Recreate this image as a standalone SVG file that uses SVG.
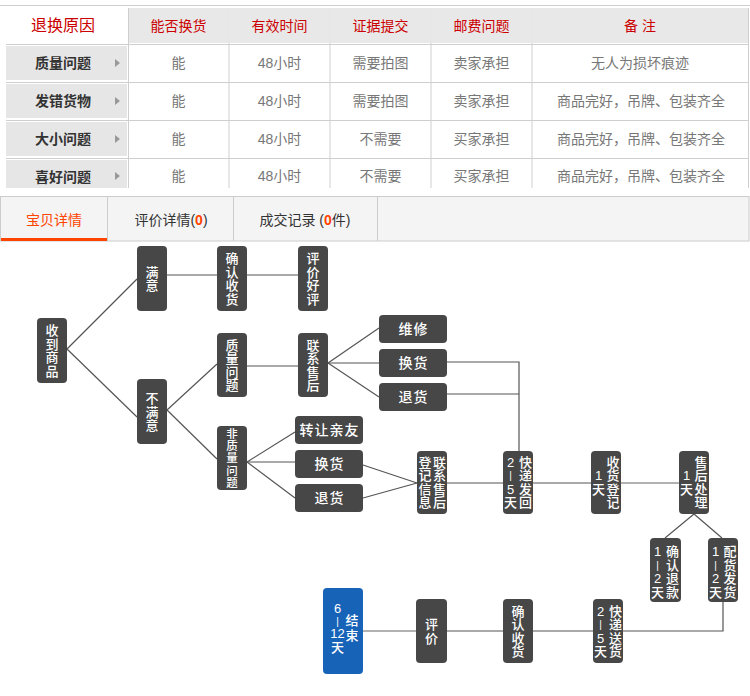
<svg xmlns="http://www.w3.org/2000/svg" width="750" height="696" viewBox="0 0 750 696">
<defs>
<style>
text{font-family:"Liberation Sans","Noto Sans CJK SC",sans-serif;}
.hd{fill:#cc0000;font-size:14px;text-anchor:middle;}
.rc{fill:#333;font-size:14px;font-weight:bold;text-anchor:middle;}
.cv{fill:#777;font-size:14px;text-anchor:middle;}
.grid{stroke:#cfcfcf;stroke-width:1;fill:none;}
.hcell{fill:#e8e8e8;}
.lcell{fill:#e6e6e6;}
.tri{fill:#999;}
.tab{font-size:14px;fill:#333;text-anchor:middle;}
.n{fill:#474747;}
.b{fill:#1763b8;}
.t{fill:#fff;font-size:13px;font-weight:500;text-anchor:middle;}
.s{fill:#fff;font-size:11.5px;font-weight:500;text-anchor:middle;}
.v{font-size:10px;}
.h{fill:#fff;font-size:14px;font-weight:500;text-anchor:middle;letter-spacing:1px;}
.c{stroke:#555;stroke-width:1.2;fill:none;}
.cl{stroke:#999;stroke-width:1.6;fill:none;}
</style>
<clipPath id="tc"><rect x="0" y="0" width="750" height="188"/></clipPath>
</defs>
<rect width="750" height="696" fill="#fff"/>

<g id="table" clip-path="url(#tc)">
<line class="grid" x1="0" y1="5.5" x2="750" y2="5.5"/>
<rect class="hcell" x="129" y="8" width="99" height="35"/>
<rect class="hcell" x="230" y="8" width="99" height="35"/>
<rect class="hcell" x="331" y="8" width="99" height="35"/>
<rect class="hcell" x="432" y="8" width="99" height="35"/>
<rect class="hcell" x="533" y="8" width="215" height="35"/>
<rect class="lcell" x="6" y="46" width="121" height="34"/>
<rect class="lcell" x="6" y="84" width="121" height="34"/>
<rect class="lcell" x="6" y="122" width="121" height="34"/>
<rect class="lcell" x="6" y="160" width="121" height="34"/>
<g class="grid">
<line x1="6" y1="44.5" x2="748" y2="44.5"/>
<line x1="6" y1="82.5" x2="748" y2="82.5"/>
<line x1="6" y1="120.5" x2="748" y2="120.5"/>
<line x1="6" y1="158.5" x2="748" y2="158.5"/>
<line x1="128.5" y1="8" x2="128.5" y2="190"/>
<line x1="229" y1="8" x2="229" y2="190"/>
<line x1="330" y1="8" x2="330" y2="190"/>
<line x1="431" y1="8" x2="431" y2="190"/>
<line x1="532" y1="8" x2="532" y2="190"/>
<line x1="748.5" y1="8" x2="748.5" y2="190"/>
</g>
<text class="hd" x="63" y="31" style="font-size:16px">退换原因</text>
<text class="hd" x="178.5" y="30.5">能否换货</text>
<text class="hd" x="279.5" y="30.5">有效时间</text>
<text class="hd" x="380.5" y="30.5">证据提交</text>
<text class="hd" x="481.5" y="30.5">邮费问题</text>
<text class="hd" x="640" y="30.5">备 注</text>

<text class="rc" x="63" y="68">质量问题</text>
<text class="rc" x="63" y="106">发错货物</text>
<text class="rc" x="63" y="144">大小问题</text>
<text class="rc" x="63" y="182">喜好问题</text>
<polygon class="tri" points="115,59 120,63 115,67"/>
<polygon class="tri" points="115,97 120,101 115,105"/>
<polygon class="tri" points="115,135 120,139 115,143"/>
<polygon class="tri" points="115,172 120,176 115,180"/>

<text class="cv" x="178.5" y="68">能</text>
<text class="cv" x="178.5" y="106">能</text>
<text class="cv" x="178.5" y="144">能</text>
<text class="cv" x="178.5" y="181">能</text>
<text class="cv" x="279.5" y="68">48小时</text>
<text class="cv" x="279.5" y="106">48小时</text>
<text class="cv" x="279.5" y="144">48小时</text>
<text class="cv" x="279.5" y="181">48小时</text>
<text class="cv" x="380.5" y="68">需要拍图</text>
<text class="cv" x="380.5" y="106">需要拍图</text>
<text class="cv" x="380.5" y="144">不需要</text>
<text class="cv" x="380.5" y="181">不需要</text>
<text class="cv" x="481.5" y="68">卖家承担</text>
<text class="cv" x="481.5" y="106">卖家承担</text>
<text class="cv" x="481.5" y="144">买家承担</text>
<text class="cv" x="481.5" y="181">买家承担</text>
<text class="cv" x="640" y="68">无人为损坏痕迹</text>
<text class="cv" x="641" y="106">商品完好，吊牌、包装齐全</text>
<text class="cv" x="641" y="144">商品完好，吊牌、包装齐全</text>
<text class="cv" x="641" y="181">商品完好，吊牌、包装齐全</text>
</g>

<g id="tabs">
<rect x="0.5" y="196.5" width="748.5" height="44.5" fill="#f4f4f4" stroke="#ccc"/>
<line x1="107.5" y1="197" x2="107.5" y2="241" stroke="#ccc"/>
<line x1="233.5" y1="197" x2="233.5" y2="241" stroke="#ccc"/>
<line x1="377.5" y1="197" x2="377.5" y2="241" stroke="#ccc"/>
<rect x="1" y="238" width="106" height="3" fill="#ff4400"/>
<text class="tab" x="54" y="225" style="fill:#ff4400">宝贝详情</text>
<text class="tab" x="171" y="225">评价详情(<tspan fill="#ff4400" font-weight="bold">0</tspan>)</text>
<text class="tab" x="305" y="225">成交记录 (<tspan fill="#ff4400" font-weight="bold">0</tspan>件)</text>
</g>

<g id="connectors">
<path class="c" d="M67,349 L137,279"/>
<path class="c" d="M67,349 L137,417"/>
<path class="c" d="M167,275 L217,275"/>
<path class="c" d="M247,275 L298,275"/>
<path class="c" d="M167,410 L217,364"/>
<path class="c" d="M167,410 L217,459"/>
<path class="c" d="M247,366 L298,366"/>
<path class="c" d="M328,363 L379,328"/>
<path class="c" d="M328,363 L379,363"/>
<path class="c" d="M328,363 L379,397"/>
<path class="c" d="M247,462 L295,432"/>
<path class="c" d="M247,462 L295,462"/>
<path class="c" d="M247,462 L295,498"/>
<path class="c" d="M447,362 L519,362 L519,451"/>
<path class="c" d="M447,394 L519,394"/>
<path class="c" d="M363,465 L417,483"/>
<path class="c" d="M363,498 L417,483"/>
<path class="c" d="M447,483 L503,483"/>
<path class="c" d="M533,483 L591,483"/>
<path class="cl" d="M621,483 L679,483"/>
<path class="c" d="M694,514 L665,538"/>
<path class="c" d="M694,514 L722,538"/>
<path class="c" d="M723,602 L723,631 L623,631"/>
<path class="c" d="M593,631 L533,631"/>
<path class="c" d="M503,631 L447,631"/>
<path class="cl" d="M416,631 L363,631"/>
</g>

<g id="n-shoudao"><rect class="n" x="37" y="318" width="30" height="65" rx="4"/>
<text class="t"><tspan x="52" y="335">收</tspan><tspan x="52" y="348.5">到</tspan><tspan x="52" y="362">商</tspan><tspan x="52" y="375.5">品</tspan></text></g>

<g id="n-manyi"><rect class="n" x="137" y="246" width="30" height="65" rx="4"/>
<text class="t"><tspan x="152" y="276.5">满</tspan><tspan x="152" y="290">意</tspan></text></g>

<g id="n-queren1"><rect class="n" x="217" y="246" width="30" height="65" rx="4"/>
<text class="t"><tspan x="232" y="263">确</tspan><tspan x="232" y="276.5">认</tspan><tspan x="232" y="290">收</tspan><tspan x="232" y="303.5">货</tspan></text></g>

<g id="n-haoping"><rect class="n" x="298" y="246" width="30" height="65" rx="4"/>
<text class="t"><tspan x="313" y="263">评</tspan><tspan x="313" y="276.5">价</tspan><tspan x="313" y="290">好</tspan><tspan x="313" y="303.5">评</tspan></text></g>

<g id="n-bumanyi"><rect class="n" x="137" y="379" width="30" height="65" rx="4"/>
<text class="t"><tspan x="152" y="403">不</tspan><tspan x="152" y="416.5">满</tspan><tspan x="152" y="430">意</tspan></text></g>

<g id="n-zhiliang"><rect class="n" x="217" y="333" width="30" height="64" rx="4"/>
<text class="t"><tspan x="232" y="349.5">质</tspan><tspan x="232" y="363">量</tspan><tspan x="232" y="376.5">问</tspan><tspan x="232" y="390">题</tspan></text></g>

<g id="n-lianxi1"><rect class="n" x="298" y="333" width="30" height="64" rx="4"/>
<text class="t"><tspan x="313" y="349.5">联</tspan><tspan x="313" y="363">系</tspan><tspan x="313" y="376.5">售</tspan><tspan x="313" y="390">后</tspan></text></g>

<g id="n-feizhiliang"><rect class="n" x="217" y="426" width="30" height="64" rx="4"/>
<text class="s"><tspan x="232" y="438">非</tspan><tspan x="232" y="450.2">质</tspan><tspan x="232" y="462.4">量</tspan><tspan x="232" y="474.6">问</tspan><tspan x="232" y="486.8">题</tspan></text></g>

<g id="n-weixiu"><rect class="n" x="379" y="315" width="68" height="28" rx="4"/>
<text class="h" x="413.5" y="334">维修</text></g>
<g id="n-huanhuo1"><rect class="n" x="379" y="349" width="68" height="28" rx="4"/>
<text class="h" x="413.5" y="368">换货</text></g>
<g id="n-tuihuo1"><rect class="n" x="379" y="383" width="68" height="28" rx="4"/>
<text class="h" x="413.5" y="402">退货</text></g>

<g id="n-zhuanrang"><rect class="n" x="295" y="416" width="68" height="28" rx="4"/>
<text class="h" x="329.5" y="435">转让亲友</text></g>
<g id="n-huanhuo2"><rect class="n" x="295" y="450" width="68" height="28" rx="4"/>
<text class="h" x="329.5" y="469">换货</text></g>
<g id="n-tuihuo2"><rect class="n" x="295" y="484" width="68" height="28" rx="4"/>
<text class="h" x="329.5" y="503">退货</text></g>

<g id="n-dengji"><rect class="n" x="417" y="451" width="30" height="63" rx="4"/>
<text class="t"><tspan x="425" y="466.5">登</tspan><tspan x="425" y="480">记</tspan><tspan x="425" y="493.5">信</tspan><tspan x="425" y="507">息</tspan></text>
<text class="t"><tspan x="439.5" y="466.5">联</tspan><tspan x="439.5" y="480">系</tspan><tspan x="439.5" y="493.5">售</tspan><tspan x="439.5" y="507">后</tspan></text></g>

<g id="n-fahui"><rect class="n" x="503" y="451" width="30" height="63" rx="4"/>
<text class="t"><tspan x="510.5" y="466.5">2</tspan><tspan class="v" x="510.5" y="479">|</tspan><tspan x="510.5" y="493.5">5</tspan><tspan x="510.5" y="507">天</tspan></text>
<text class="t"><tspan x="525.5" y="466.5">快</tspan><tspan x="525.5" y="480">递</tspan><tspan x="525.5" y="493.5">发</tspan><tspan x="525.5" y="507">回</tspan></text></g>

<g id="n-shouhuo"><rect class="n" x="591" y="451" width="30" height="63" rx="4"/>
<text class="t"><tspan x="598.5" y="480">1</tspan><tspan x="598.5" y="493.5">天</tspan></text>
<text class="t"><tspan x="613" y="466.5">收</tspan><tspan x="613" y="480">货</tspan><tspan x="613" y="493.5">登</tspan><tspan x="613" y="507">记</tspan></text></g>

<g id="n-shouhou"><rect class="n" x="679" y="451" width="30" height="63" rx="4"/>
<text class="t"><tspan x="686.5" y="480">1</tspan><tspan x="686.5" y="493.5">天</tspan></text>
<text class="t"><tspan x="701" y="466.5">售</tspan><tspan x="701" y="480">后</tspan><tspan x="701" y="493.5">处</tspan><tspan x="701" y="507">理</tspan></text></g>

<g id="n-tuikuan"><rect class="n" x="650" y="538" width="31" height="64" rx="4"/>
<text class="t"><tspan x="657.5" y="556">1</tspan><tspan class="v" x="657.5" y="568.5">|</tspan><tspan x="657.5" y="583">2</tspan><tspan x="657.5" y="596.5">天</tspan></text>
<text class="t"><tspan x="672.5" y="556">确</tspan><tspan x="672.5" y="569.5">认</tspan><tspan x="672.5" y="583">退</tspan><tspan x="672.5" y="596.5">款</tspan></text></g>

<g id="n-fahuo"><rect class="n" x="708" y="538" width="30" height="64" rx="4"/>
<text class="t"><tspan x="715.5" y="556">1</tspan><tspan class="v" x="715.5" y="568.5">|</tspan><tspan x="715.5" y="583">2</tspan><tspan x="715.5" y="596.5">天</tspan></text>
<text class="t"><tspan x="730" y="556">配</tspan><tspan x="730" y="569.5">货</tspan><tspan x="730" y="583">发</tspan><tspan x="730" y="596.5">货</tspan></text></g>

<g id="n-songhuo"><rect class="n" x="593" y="599" width="30" height="64" rx="4"/>
<text class="t"><tspan x="600.5" y="615.5">2</tspan><tspan class="v" x="600.5" y="628">|</tspan><tspan x="600.5" y="642.5">5</tspan><tspan x="600.5" y="656">天</tspan></text>
<text class="t"><tspan x="615.5" y="615.5">快</tspan><tspan x="615.5" y="629">递</tspan><tspan x="615.5" y="642.5">送</tspan><tspan x="615.5" y="656">货</tspan></text></g>

<g id="n-queren2"><rect class="n" x="503" y="599" width="30" height="64" rx="4"/>
<text class="t"><tspan x="518" y="615.5">确</tspan><tspan x="518" y="629">认</tspan><tspan x="518" y="642.5">收</tspan><tspan x="518" y="656">货</tspan></text></g>

<g id="n-pingjia"><rect class="n" x="416" y="599" width="31" height="64" rx="4"/>
<text class="t"><tspan x="431.5" y="629">评</tspan><tspan x="431.5" y="642.5">价</tspan></text></g>

<g id="n-jieshu"><rect class="b" x="323" y="588" width="40" height="86" rx="4"/>
<text class="t"><tspan x="337.5" y="613">6</tspan><tspan class="v" x="337.5" y="624.5">|</tspan><tspan x="337.5" y="638">12</tspan><tspan x="337.5" y="651.5">天</tspan></text>
<text class="t"><tspan x="352" y="625">结</tspan><tspan x="352" y="639.5">束</tspan></text></g>
</svg>
